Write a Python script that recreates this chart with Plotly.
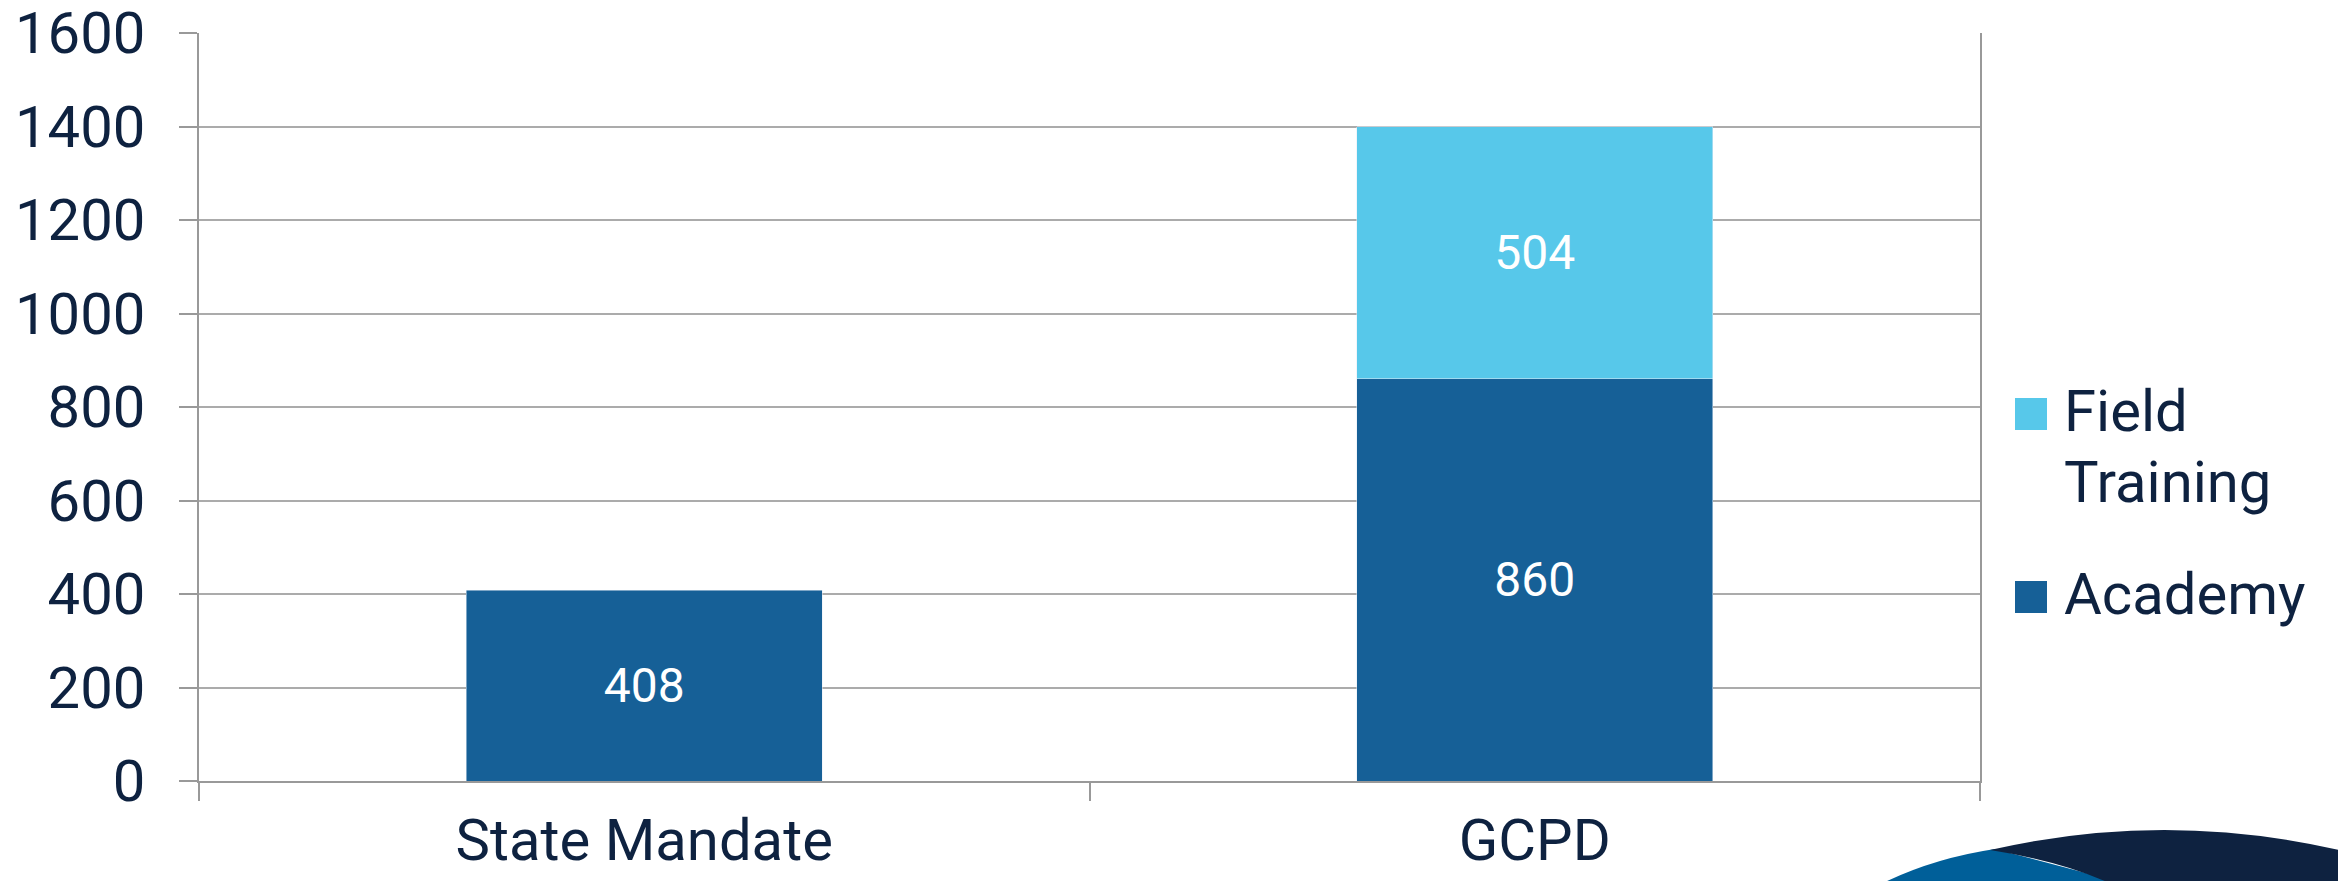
import plotly.graph_objects as go

categories = ["State Mandate", "GCPD"]
academy = [408, 860]
field_training = [None, 540]
academy_labels = ["408", "860"]
field_labels = ["", "504"]
series_names = ["Academy", "Field Training"]
y_ticks = [0, 200, 400, 600, 800, 1000, 1200, 1400, 1600]

W, H = 2338, 881
L, R, T, B = 199, 358, 33, 100
PW, PH = W - L - R, H - T - B

def px(x):
    return (x - L) / PW

def py(y):
    return (H - B - y) / PH

NAVY = "#0E2240"
ACAD = "#166097"
FIELD = "#57C8EA"
FONT = "Roboto"

fig = go.Figure()
fig.add_trace(go.Bar(
    x=categories, y=academy, name=series_names[0], marker_color=ACAD,
    text=academy_labels, textposition="inside",
    insidetextanchor="middle", textangle=0,
    textfont=dict(color="white", size=48, family=FONT),
    width=0.4, showlegend=False,
))
fig.add_trace(go.Bar(
    x=categories, y=field_training, name=series_names[1], marker_color=FIELD,
    text=field_labels, textposition="inside",
    insidetextanchor="middle", textangle=0,
    textfont=dict(color="white", size=48, family=FONT),
    width=0.4, showlegend=False,
))

# decorative swoosh (pixel -> paper)
def P(x, y):
    return f"{px(x):.5f},{py(y):.5f}"

blue_path = f"M {P(1885, 882)} Q {P(1935, 858)} {P(1995, 849)} L {P(2120, 882)} Z"
navy_path = (f"M {P(1990, 850)} Q {P(2164, 810)} {P(2339, 850)} L {P(2339, 882)} "
             f"L {P(2107, 882)} Q {P(2060, 861)} {P(1990, 850)} Z")

shapes = [
    dict(type="path", xref="paper", yref="paper", path=blue_path,
         fillcolor="#005F99", line=dict(width=0), layer="above"),
    dict(type="path", xref="paper", yref="paper", path=navy_path,
         fillcolor=NAVY, line=dict(width=0), layer="above"),
    # custom legend markers
    dict(type="rect", xref="paper", yref="paper", x0=px(2015), x1=px(2047),
         y0=py(430), y1=py(398), fillcolor=FIELD, line=dict(width=0)),
    dict(type="rect", xref="paper", yref="paper", x0=px(2015), x1=px(2047),
         y0=py(613), y1=py(581), fillcolor=ACAD, line=dict(width=0)),
]

annotations = [
    dict(xref="paper", yref="paper", x=px(2062), y=py(411), text="Field",
         xanchor="left", yanchor="middle", showarrow=False,
         font=dict(size=58, color=NAVY, family=FONT)),
    dict(xref="paper", yref="paper", x=px(2062), y=py(482), text="Training",
         xanchor="left", yanchor="middle", showarrow=False,
         font=dict(size=58, color=NAVY, family=FONT)),
    dict(xref="paper", yref="paper", x=px(2062), y=py(594), text="Academy",
         xanchor="left", yanchor="middle", showarrow=False,
         font=dict(size=58, color=NAVY, family=FONT)),
]

fig.update_layout(
    width=W, height=H,
    margin=dict(l=L, r=R, t=T, b=B, pad=0, autoexpand=False),
    barmode="stack",
    plot_bgcolor="white", paper_bgcolor="white",
    font=dict(family=FONT, color=NAVY, size=58),
    shapes=shapes, annotations=annotations,
    showlegend=False,
)
fig.update_yaxes(
    range=[0, 1600], tickvals=y_ticks, ticktext=[str(v) for v in y_ticks],
    showgrid=True, gridcolor="#ABABAB", gridwidth=2,
    showline=True, linecolor="#999999", linewidth=2, mirror=True,
    ticks="outside", ticklen=18, tickcolor="#999999", tickwidth=2,
    tickfont=dict(size=58, color=NAVY, family=FONT),
    ticklabelstandoff=22, zeroline=False, automargin=False,
    ticklabeloverflow="allow",
)
fig.update_xaxes(
    showgrid=False, showline=True, linecolor="#999999", linewidth=2,
    ticks="outside", tickson="boundaries", ticklen=18, tickcolor="#999999", tickwidth=2,
    tickfont=dict(size=58, color=NAVY, family=FONT),
    ticklabelstandoff=7, automargin=False, ticklabeloverflow="allow",
)

fig.write_html(
    "out.html",
    config={"displayModeBar": False},
    post_script="document.body.style.margin='0';document.body.style.overflow='hidden';",
)
